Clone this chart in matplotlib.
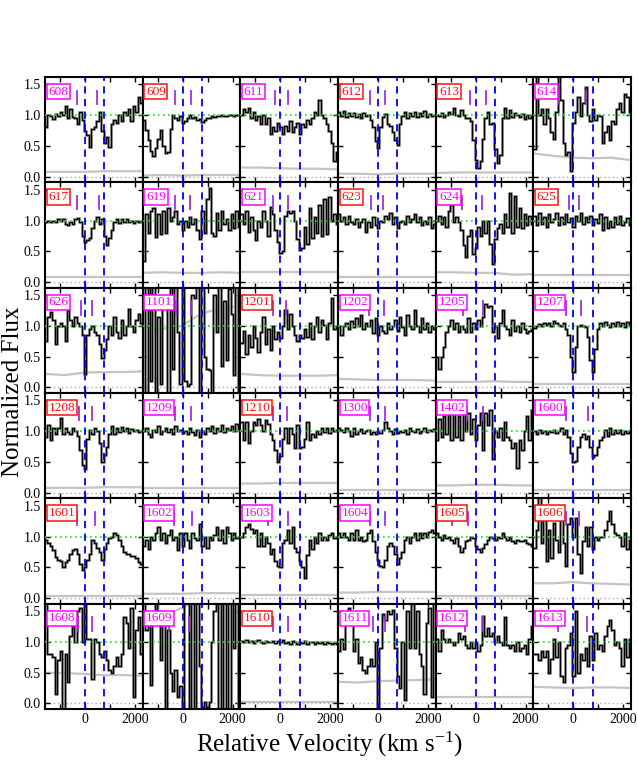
import numpy as np
import matplotlib
matplotlib.use("Agg")
import matplotlib.pyplot as plt

plt.rcParams['font.family'] = ['Liberation Serif', 'DejaVu Serif']
plt.rcParams['mathtext.fontset'] = 'custom'
plt.rcParams['mathtext.rm'] = 'Liberation Serif'
plt.rcParams['mathtext.it'] = 'Liberation Serif:italic'

# panel labels and label colours (m = magenta, r = red)
labels = ['608', '609', '611', '612', '613', '614',
          '617', '619', '621', '623', '624', '625',
          '626', '1101', '1201', '1202', '1205', '1207',
          '1208', '1209', '1210', '1300', '1402', '1600',
          '1601', '1602', '1603', '1604', '1605', '1606',
          '1608', '1609', '1610', '1611', '1612', '1613']
label_kind = ['m', 'r', 'm', 'r', 'r', 'm',
              'r', 'm', 'm', 'r', 'm', 'r',
              'm', 'm', 'r', 'm', 'm', 'm',
              'r', 'm', 'r', 'm', 'm', 'm',
              'r', 'm', 'm', 'm', 'r', 'r',
              'm', 'm', 'r', 'm', 'm', 'm']

# normalized flux per panel (bins spread evenly over the velocity window)
f608 = [0.8, 1.0, 0.98, 0.93, 1.02, 0.98, 1.05, 1.0, 1.15, 0.95, 1.1, 0.97, 0.95, 0.85, 1.05, 0.92, 0.75, 0.68, 0.48, 0.78,
        0.8, 0.9, 1.05, 0.75, 0.55, 0.65, 0.48, 0.85, 0.92, 0.88, 1.0, 0.9, 1.05, 1.0, 1.1, 0.9, 1.15, 1.05, 1.3, 1.2]
f609 = [0.92, 0.76, 0.6, 0.42, 0.33, 0.46, 0.62, 0.76, 0.5, 0.38, 0.4, 0.78, 1.0, 0.95, 0.92, 0.98, 0.88, 0.9, 0.96, 1.0,
        0.95, 0.97, 0.92, 0.94, 0.89, 0.92, 0.95, 0.96, 0.98, 0.97, 0.99, 0.98, 1.0, 0.99, 0.98, 1.0, 1.01, 0.99, 1.01, 1.0]
f611 = [1.0, 1.1, 1.05, 1.12, 0.95, 1.05, 0.92, 0.98, 0.85, 1.0, 0.85, 0.95, 0.7, 0.8, 0.74, 0.88, 0.8, 0.7, 0.82, 0.74,
        0.9, 0.72, 0.8, 0.88, 0.7, 0.85, 0.8, 0.92, 0.86, 0.95, 1.05, 1.0, 1.25, 1.0, 0.95, 0.85, 0.75, 0.55, 0.26, 0.4]
f612 = [1.05, 0.98, 1.07, 0.97, 1.03, 0.98, 1.04, 0.97, 1.02, 0.96, 1.03, 0.98, 1.0, 0.92, 0.8, 0.58, 0.46, 0.8, 0.97, 1.02,
        0.86, 0.82, 0.72, 0.6, 0.52, 0.85, 0.98, 1.05, 0.95, 1.04, 0.98, 1.05, 0.97, 1.03, 0.99, 1.06, 0.97, 1.02, 0.98, 1.0]
f613 = [1.0, 0.98, 1.03, 0.97, 1.0, 1.05, 1.02, 1.12, 1.0, 0.98, 1.08, 1.0, 0.96, 0.95, 0.9, 0.6, 0.28, 0.15, 0.25, 0.62,
        0.95, 1.05, 0.86, 0.88, 0.45, 0.22, 0.35, 0.95, 1.12, 0.95, 1.08, 0.97, 1.03, 1.0, 0.97, 1.02, 0.94, 1.0, 0.95, 1.0]
f614 = [0.45, 1.7, 1.0, 1.1, 0.85, 1.1, 0.95, 0.72, 0.62, 1.05, 1.7, 1.25, 0.55, 0.35, 0.4, 0.1, 0.88, 1.05, 1.3, 0.98,
        1.2, 1.45, 1.0, 0.9, 1.1, 0.92, 1.0, 0.98, 0.55, 0.72, 0.82, 0.6, 0.9, 0.85, 1.1, 1.2, 1.05, 1.35, 1.3, 1.05]
f617 = [0.98, 1.0, 0.97, 1.0, 0.98, 1.02, 0.99, 1.03, 0.95, 0.93, 0.98, 0.95, 1.02, 1.04, 0.97, 0.75, 0.65, 0.68, 0.72, 0.88,
        1.0, 1.06, 0.95, 1.02, 0.75, 0.6, 0.72, 0.85, 0.97, 1.02, 0.96, 1.02, 0.97, 1.03, 0.98, 1.0, 0.96, 1.0, 0.98, 1.0]
f619 = [0.35, 1.1, 0.8, 1.15, 1.2, 0.73, 1.1, 0.78, 1.15, 0.8, 1.2, 1.0, 1.05, 1.15, 0.95, 1.0, 0.85, 1.0, 0.9, 1.05,
        0.95, 1.02, 0.85, 0.7, 1.15, 0.8, 1.35, 1.52, 0.8, 0.75, 1.12, 0.85, 1.15, 0.95, 1.02, 0.85, 1.1, 0.88, 1.15, 0.9]
f621 = [1.1, 0.95, 1.15, 0.82, 1.05, 0.85, 0.68, 1.0, 0.9, 1.15, 1.0, 0.75, 1.22, 1.1, 0.85, 0.65, 0.48, 0.5, 1.08, 1.15,
        1.12, 1.15, 1.0, 0.7, 0.52, 0.55, 0.9, 0.62, 1.2, 0.72, 1.05, 0.8, 1.25, 0.75, 1.35, 0.78, 1.38, 1.0, 1.1, 0.95]
f623 = [1.1, 1.0, 1.05, 0.95, 1.08, 0.98, 0.95, 1.02, 0.9, 0.97, 1.03, 0.82, 0.98, 0.9, 1.05, 0.92, 0.88, 1.0, 0.97, 1.08,
        1.02, 1.12, 0.95, 1.05, 0.88, 0.98, 1.0, 0.95, 1.08, 0.98, 1.02, 1.1, 0.97, 1.05, 0.92, 1.0, 0.95, 1.05, 0.88, 0.95]
f624 = [1.0, 1.08, 0.95, 1.05, 0.9, 1.15, 1.25, 0.98, 1.05, 0.98, 0.85, 0.6, 0.4, 0.75, 0.85, 0.45, 0.55, 0.9, 0.75, 1.0,
        0.8, 1.0, 0.62, 0.3, 0.7, 0.88, 0.95, 0.8, 1.1, 0.9, 1.45, 0.8, 1.4, 0.9, 1.2, 0.88, 1.1, 0.92, 1.08, 0.95]
f625 = [1.08, 0.92, 1.12, 0.95, 1.05, 0.9, 1.1, 0.97, 1.02, 1.12, 0.93, 1.06, 0.95, 1.1, 0.98, 1.04, 0.9, 1.08, 1.0, 1.12,
        0.94, 1.05, 0.97, 1.08, 0.92, 1.02, 0.96, 1.1, 0.85, 1.05, 0.88, 1.0, 0.9, 1.06, 0.95, 1.08, 0.92, 0.98, 1.04, 0.93]
f626 = [0.75, 1.15, 1.22, 1.1, 0.7, 1.0, 1.05, 1.0, 0.75, 1.25, 1.1, 1.0, 1.15, 1.05, 1.0, 0.85, 0.22, 0.85, 0.95, 1.0,
        0.9, 0.85, 0.7, 0.48, 0.6, 0.78, 1.0, 0.85, 1.15, 0.9, 0.8, 1.1, 0.85, 1.0, 1.27, 1.0, 0.9, 1.1, 1.2, 1.05]
f1101 = [1.7, -0.2, 1.7, 0.1, 1.7, -0.2, 1.15, 0.05, 1.45, 1.4, -0.2, 1.7, 0.3, 1.7, 0.9, 0.05, 1.7, 0.1, 0.02, 0.05,
         1.5, 1.45, 1.7, -0.2, 1.7, 0.5, 0.3, 0.28, -0.2, 1.5, 0.9, 1.7, 0.35, 1.4, 0.45, 1.6, 1.2, 0.2, 1.7, -0.2]
f1201 = [0.72, 0.92, 0.55, 0.85, 0.65, 1.0, 0.8, 0.58, 0.9, 1.15, 0.7, 0.95, 0.6, 1.0, 0.78, 0.9, 0.8, 1.0, 1.25, 0.95,
         1.2, 1.0, 0.85, 0.75, 0.85, 0.8, 0.95, 0.82, 1.05, 0.78, 1.0, 1.15, 0.9, 1.1, 1.02, 0.78, 1.05, 1.45, 0.95, 1.0]
f1202 = [1.0, 0.85, 1.0, 1.05, 0.95, 1.08, 0.98, 1.12, 1.0, 1.18, 0.95, 1.05, 1.0, 1.1, 0.88, 1.12, 0.85, 1.0, 0.92, 0.88,
         1.05, 0.95, 1.0, 1.1, 0.92, 1.15, 0.98, 0.85, 1.18, 1.0, 0.95, 1.25, 1.0, 0.9, 1.12, 0.95, 1.05, 0.9, 1.0, 0.95]
f1205 = [0.5, 0.3, 0.5, 0.65, 0.9, 1.0, 1.1, 0.95, 1.05, 0.9, 1.0, 0.95, 0.9, 1.12, 0.9, 1.05, 0.95, 1.1, 1.0, 1.15,
         1.35, 1.3, 1.32, 0.9, 1.0, 0.8, 1.05, 1.25, 1.0, 0.95, 0.85, 1.1, 0.92, 1.0, 0.9, 1.05, 0.95, 0.88, 0.92, 0.95]
f1207 = [0.97, 1.0, 1.03, 1.0, 1.04, 1.02, 1.05, 1.0, 1.08, 1.05, 1.02, 1.0, 1.05, 0.95, 0.85, 0.5, 0.25, 0.65, 1.0, 1.02,
         1.0, 0.98, 0.82, 0.45, 0.25, 0.62, 0.95, 1.05, 1.0, 1.07, 1.02, 0.98, 1.05, 1.0, 1.07, 1.0, 1.05, 0.98, 1.06, 1.02]
f1208 = [0.9, 1.1, 0.85, 1.05, 0.95, 1.05, 1.22, 0.95, 1.05, 0.98, 0.95, 1.05, 1.0, 0.92, 0.7, 0.45, 0.38, 0.88, 1.02, 0.95,
         1.05, 1.0, 0.8, 0.5, 0.62, 0.75, 0.95, 1.08, 0.95, 1.05, 0.98, 1.06, 1.0, 1.05, 0.97, 1.03, 1.0, 1.02, 0.98, 1.0]
f1209 = [1.0, 1.05, 0.95, 0.9, 1.02, 0.98, 1.08, 0.95, 1.0, 1.05, 0.98, 1.03, 0.95, 1.08, 1.0, 1.02, 0.97, 1.0, 0.95, 1.05,
         0.98, 0.93, 1.02, 0.9, 1.0, 0.95, 1.05, 1.0, 1.08, 0.97, 1.05, 1.0, 1.1, 0.98, 1.05, 1.02, 1.08, 1.0, 1.12, 1.02]
f1210 = [1.15, 0.85, 1.15, 0.8, 1.0, 1.15, 1.1, 1.2, 1.1, 1.0, 1.18, 1.12, 0.95, 0.85, 0.7, 0.5, 0.6, 0.88, 1.05, 0.8,
         1.05, 0.95, 0.72, 1.1, 0.72, 0.75, 0.88, 1.15, 0.85, 0.95, 0.9, 1.0, 0.95, 1.05, 0.98, 1.05, 0.97, 1.05, 1.0, 1.02]
f1300 = [1.05, 1.02, 0.98, 1.05, 1.0, 0.92, 1.05, 0.95, 1.0, 1.03, 0.97, 1.0, 1.02, 0.95, 0.98, 0.95, 1.0, 0.97, 1.02, 1.15,
         1.05, 1.0, 0.95, 1.03, 0.97, 1.0, 0.98, 1.02, 0.96, 1.05, 1.0, 0.98, 1.03, 0.97, 1.0, 1.05, 0.98, 1.02, 1.0, 1.03]
f1402 = [0.85, 1.2, 0.9, 1.25, 0.95, 1.3, 0.85, 1.3, 0.9, 1.25, 0.85, 1.35, 1.0, 1.3, 0.95, 1.2, 0.85, 1.1, 1.3, 0.7,
         1.3, 1.1, 1.35, 0.55, 1.0, 0.9, 1.05, 0.85, 1.15, 0.9, 0.85, 0.72, 0.8, 0.4, 0.85, 0.7, 1.0, 1.25, 0.85, 1.35]
f1600 = [1.0, 0.95, 1.02, 0.97, 1.0, 0.95, 1.0, 0.98, 1.02, 0.97, 1.0, 1.05, 0.95, 1.02, 0.9, 0.65, 0.5, 0.52, 0.75, 0.9,
         0.95, 0.88, 0.92, 0.75, 0.58, 0.62, 0.75, 0.85, 0.9, 1.02, 0.92, 1.05, 0.95, 1.02, 0.97, 1.02, 0.95, 1.0, 0.97, 1.0]
f1601 = [0.95, 0.9, 0.85, 0.78, 0.66, 0.62, 0.6, 0.5, 0.58, 0.62, 0.72, 0.78, 0.8, 0.72, 0.55, 0.45, 0.5, 0.62, 0.72, 0.95,
         0.9, 0.82, 0.75, 0.62, 0.8, 0.9, 0.98, 1.0, 1.05, 1.02, 0.95, 0.85, 0.75, 0.72, 0.72, 0.68, 0.68, 0.65, 0.58, 0.55]
f1602 = [0.85, 0.95, 0.8, 1.0, 0.95, 1.05, 1.15, 0.95, 1.05, 0.9, 1.02, 1.1, 0.95, 1.0, 0.78, 1.05, 0.85, 1.05, 0.95, 0.82,
         1.05, 0.98, 0.95, 1.2, 0.85, 1.0, 0.82, 1.0, 0.95, 1.02, 1.15, 0.95, 1.1, 0.9, 1.15, 1.05, 0.95, 1.05, 0.98, 1.0]
f1603 = [1.0, 1.05, 1.15, 1.2, 1.12, 1.05, 1.1, 0.85, 1.05, 0.85, 1.0, 0.9, 0.72, 0.8, 0.6, 0.52, 0.5, 0.9, 0.95, 1.1,
         0.9, 1.15, 0.82, 0.75, 0.6, 0.5, 0.32, 0.7, 0.95, 0.8, 1.0, 0.9, 1.05, 0.95, 1.0, 0.95, 1.02, 1.05, 0.98, 1.0]
f1604 = [1.05, 1.0, 1.05, 1.0, 0.95, 1.05, 0.95, 1.1, 0.95, 1.0, 0.92, 0.95, 1.05, 1.1, 0.92, 0.75, 0.62, 0.52, 0.5, 0.62,
         0.85, 0.9, 0.85, 0.72, 0.55, 0.65, 0.75, 0.95, 1.0, 0.9, 1.0, 1.05, 0.95, 1.05, 0.98, 1.05, 1.0, 1.08, 1.1, 1.05]
f1605 = [1.05, 1.0, 0.95, 1.02, 0.97, 1.0, 0.95, 0.9, 0.98, 0.85, 0.75, 0.82, 0.92, 0.95, 1.0, 0.98, 0.85, 0.8, 0.75, 0.82,
         0.88, 0.95, 1.0, 0.97, 0.95, 1.0, 0.98, 1.05, 1.0, 0.95, 1.0, 0.92, 0.9, 0.95, 0.93, 0.92, 0.95, 0.9, 0.88, 0.85]
f1606 = [0.82, 1.1, 1.62, 0.9, 1.3, 0.6, 1.1, 0.65, 1.22, 0.95, 0.75, 1.32, 0.9, 0.52, 1.2, 1.3, 1.0, 1.3, 0.72, 0.4,
         0.92, 1.15, 0.85, 1.15, 0.8, 1.0, 0.95, 1.0, 1.0, 1.1, 1.25, 1.42, 1.2, 1.05, 1.02, 1.0, 0.85, 1.05, 0.8, 0.95]
f1608 = [1.65, 0.8, 0.8, 0.75, 0.15, 0.7, 0.85, -0.1, 0.8, 0.35, 1.1, 1.3, 1.0, 1.5, 1.55, 1.0, 1.65, 1.05, 1.05, 0.4,
         1.05, 1.0, 0.8, 0.75, 0.85, 0.7, 0.55, 0.5, 0.6, 0.75, 0.6, 0.8, 1.4, 1.3, 0.9, 1.55, 0.1, 1.2, 1.4, 0.8]
f1609 = [1.65, 1.2, 1.4, 0.3, 1.4, 1.65, 1.5, 0.7, 1.3, -0.1, 1.2, 0.5, 0.2, 0.55, 0.1, 0.28, -0.1, 1.65, 1.65, -0.1,
         1.65, -0.1, 1.65, 0.6, -0.05, 0.02, -0.05, 0.02, 1.0, 1.5, 1.65, -0.1, 1.65, -0.1, 1.65, -0.1, 1.65, 0.9, 1.65, -0.1]
f1610 = [1.02, 1.0, 1.03, 0.99, 1.02, 0.98, 1.01, 1.03, 1.0, 0.98, 1.02, 1.0, 0.99, 1.02, 0.98, 1.01, 1.0, 1.03, 0.98, 1.0,
         0.97, 1.01, 0.99, 0.96, 1.0, 0.98, 1.01, 0.97, 0.99, 1.0, 0.97, 1.0, 0.98, 0.99, 0.97, 1.0, 0.98, 0.96, 0.98, 0.97]
f1611 = [0.85, 1.05, 0.88, 1.4, 1.55, 1.3, 0.85, 1.05, 0.65, 0.75, 0.55, 0.5, 0.6, 0.72, 0.6, 1.0, -0.1, 0.9, 1.45, 1.35,
         1.5, 1.45, 1.52, 0.9, 0.45, 0.25, 1.0, 0.05, 1.5, 0.9, 1.62, 0.9, 1.5, 0.8, 0.6, 0.15, 1.3, 1.55, 0.1, 1.62]
f1612 = [1.05, 0.85, 1.2, 1.05, 1.0, 1.05, 1.0, 0.95, 1.0, 1.15, 1.05, 1.1, 0.95, 0.9, 1.0, 0.9, 1.0, 0.85, 0.95, 1.42,
         1.1, 1.22, 1.1, 1.15, 1.0, 1.1, 1.0, 0.95, 1.4, 0.95, 0.9, 0.95, 0.85, 1.0, 0.85, 0.9, 0.95, 0.8, 1.05, 1.25]
f1613 = [0.8, 0.8, 0.7, 0.85, 0.75, 0.85, 0.5, 0.72, 1.05, 0.75, 1.0, 0.45, 0.35, 0.9, 0.95, 1.15, 0.45, 1.5, 0.5, 0.8,
         0.7, 0.9, 0.6, 1.1, 0.7, 1.15, 0.88, 0.95, 0.85, 1.1, 1.25, 1.35, 1.2, 0.95, 1.0, 0.9, 0.6, 1.05, 0.75, 1.05]

fluxes = [f608, f609, f611, f612, f613, f614,
          f617, f619, f621, f623, f624, f625,
          f626, f1101, f1201, f1202, f1205, f1207,
          f1208, f1209, f1210, f1300, f1402, f1600,
          f1601, f1602, f1603, f1604, f1605, f1606,
          f1608, f1609, f1610, f1611, f1612, f1613]

# flux error curves (a few points across each panel)
errors = [[0.08, 0.08, 0.08, 0.09, 0.09, 0.09], [0.02, 0.03, 0.02, 0.03, 0.03, 0.03],
          [0.15, 0.15, 0.14, 0.13, 0.13, 0.12], [0.05, 0.05, 0.04, 0.05, 0.05, 0.05],
          [0.06, 0.07, 0.07, 0.07, 0.07, 0.07], [0.38, 0.34, 0.31, 0.30, 0.31, 0.27],
          [0.08, 0.08, 0.08, 0.08, 0.08, 0.08], [0.15, 0.16, 0.15, 0.15, 0.16, 0.15],
          [0.17, 0.17, 0.17, 0.17, 0.17, 0.17], [0.08, 0.08, 0.08, 0.08, 0.08, 0.08],
          [0.16, 0.16, 0.15, 0.15, 0.12, 0.13], [0.11, 0.11, 0.11, 0.11, 0.11, 0.11],
          [0.22, 0.20, 0.24, 0.25, 0.25, 0.26], [0.98, 0.95, 1.0, 1.2, 1.28, 1.32],
          [0.22, 0.20, 0.19, 0.19, 0.19, 0.20], [0.14, 0.13, 0.12, 0.12, 0.12, 0.11],
          [0.09, 0.09, 0.09, 0.10, 0.09, 0.09], [0.05, 0.05, 0.05, 0.05, 0.05, 0.05],
          [0.08, 0.08, 0.08, 0.09, 0.09, 0.09], [0.07, 0.07, 0.07, 0.07, 0.07, 0.07],
          [0.15, 0.15, 0.16, 0.16, 0.16, 0.16], [0.05, 0.05, 0.05, 0.05, 0.05, 0.05],
          [0.12, 0.12, 0.13, 0.13, 0.12, 0.12], [0.05, 0.05, 0.05, 0.05, 0.05, 0.05],
          [0.04, 0.04, 0.04, 0.04, 0.04, 0.04], [0.07, 0.07, 0.07, 0.08, 0.08, 0.08],
          [0.05, 0.05, 0.05, 0.05, 0.05, 0.05], [0.09, 0.09, 0.10, 0.10, 0.10, 0.10],
          [0.03, 0.03, 0.03, 0.03, 0.03, 0.03], [0.24, 0.24, 0.26, 0.24, 0.23, 0.22],
          [0.50, 0.49, 0.48, 0.46, 0.46, 0.45], [1.3, 1.4, 1.55, 1.7, 1.75, 1.8],
          [0.03, 0.03, 0.03, 0.03, 0.03, 0.03], [0.35, 0.34, 0.36, 0.37, 0.38, 0.39],
          [0.10, 0.10, 0.10, 0.10, 0.10, 0.10], [0.27, 0.26, 0.25, 0.26, 0.26, 0.25]]

# purple markers (km/s) above the continuum
marks = [[-300, 490], [-300, 350], [-210, 300], [-320, 290], [-230, 410], [-560, 520],
         [-300, 560], [-300, 300], [-300, 300], [-290, 210], [-530, 270], [-180, 240],
         [-170, 290], [-270, 330], [-290, 240], [-350, 240], [-490, 300], [-300, 300],
         [-230, 290], [-300, 320], [-300, 270], [-320, 290], [-350, 300], [-300, 580],
         [-330, 410], [-350, 380], [-490, 300], [-320, 290], [-940, -300], [-300, 240],
         [-270, 300], [-560, 270], [-300, 300], [-210, 290], [-410, 300], [-610, 530]]

components = [0, 770]
vmin, vmax = -1600, 2310

fig = plt.figure(figsize=(6.38, 7.84), dpi=100)
axes = fig.subplots(6, 6, sharex=True, sharey=True)
fig.subplots_adjust(left=0.0705, right=0.989, top=0.9018, bottom=0.0957, wspace=0, hspace=0)

for k, ax in enumerate(axes.flat):
    flux = np.array(fluxes[k])
    edges = np.linspace(vmin, vmax, len(flux) + 1)
    err = errors[k]
    ax.plot(np.linspace(vmin, vmax, len(err)), err, color='#c4c4c4', lw=1.6, zorder=1)
    ax.axhline(0, color='#aaaaaa', ls=(0, (1, 2)), lw=1, zorder=1)
    ax.stairs(flux, edges, baseline=None, color='0.6', lw=1.9, zorder=2)
    ax.stairs(flux, edges, baseline=None, color='k', lw=1.0, zorder=3)
    ax.axhline(1, color='#22dd22', ls=(0, (1, 2)), lw=1.2, zorder=4)
    for v in components:
        ax.axvline(v, color='#0000ff', ls=(0, (4, 3)), lw=1.3, zorder=4)
    for v in marks[k]:
        ax.plot([v, v], [1.18, 1.4], color='#a030e0', lw=1.3, zorder=5)
    col = '#ff00ff' if label_kind[k] == 'm' else '#ff1010'
    ax.text(0.035, 0.86, labels[k], transform=ax.transAxes, fontsize=9.5, color=col,
            ha='left', va='center', zorder=6,
            bbox=dict(boxstyle='square,pad=0.12', fc='white', ec=col, lw=1.1))

    ax.set_xlim(vmin, vmax)
    ax.set_ylim(-0.09, 1.62)
    ax.set_xticks([-1000, 0, 1000, 2000])
    ax.set_xticklabels(['', '0', '', '2000'])
    ax.set_yticks([0, 0.5, 1.0, 1.5])
    ax.set_yticklabels(['0.0', '0.5', '1.0', '1.5'])
    ax.tick_params(direction='in', top=True, right=True, length=3.5, width=1, labelsize=10, pad=3)
    for s in ax.spines.values():
        s.set_linewidth(1.5)

fig.text(0.02, 0.5, 'Normalized Flux', rotation=90, ha='center', va='center', fontsize=18)
fig.text(0.517, 0.05, r'Relative Velocity (km s$^{-1}$)', ha='center', va='center', fontsize=18)

fig.savefig('out.png', dpi=100)
